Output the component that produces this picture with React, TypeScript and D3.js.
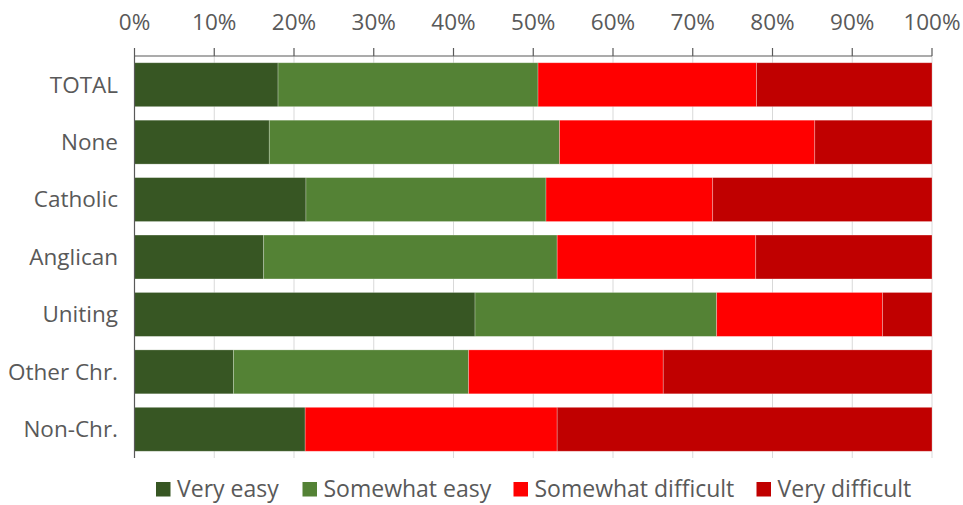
import React from "react";
import * as d3 from "d3";

// Religious affiliation groups, top to bottom
const categories = ["TOTAL", "None", "Catholic", "Anglican", "Uniting", "Other Chr.", "Non-Chr."];

// Share of respondents (%) per response, one array per series
const veryEasy = [18.0, 16.9, 21.5, 16.2, 42.7, 12.4, 21.4];
const somewhatEasy = [32.6, 36.4, 30.1, 36.8, 30.3, 29.5, 0];
const somewhatDifficult = [27.4, 32.0, 20.9, 24.9, 20.8, 24.4, 31.6];
const veryDifficult = [22.0, 14.7, 27.5, 22.1, 6.2, 33.7, 47.0];

const seriesNames = ["Very easy", "Somewhat easy", "Somewhat difficult", "Very difficult"];
const seriesColors = ["#375623", "#548235", "#FF0000", "#C00000"];
const tickValues = [0, 10, 20, 30, 40, 50, 60, 70, 80, 90, 100];

const W = 963;
const H = 505;
const FONT = "'Open Sans', sans-serif";
const TEXT = "#595959";

export default function App() {
  const seriesData = [veryEasy, somewhatEasy, somewhatDifficult, veryDifficult];
  const rows = categories.map((c, i) => {
    const r: Record<string, number | string> = { category: c };
    seriesNames.forEach((s, k) => (r[s] = seriesData[k][i]));
    return r;
  });
  const stacked = d3.stack<any>().keys(seriesNames)(rows as any);

  const x = d3.scaleLinear().domain([0, 100]).range([134.5, 932]);
  const y = d3
    .scaleBand<string>()
    .domain(categories)
    .range([56, 458])
    .paddingInner(0.235)
    .paddingOuter(0.1175);

  const legendX = [156, 302.5, 513.5, 756.5];

  return (
    <svg width={W} height={H} style={{ position: "absolute", left: 0, top: 0 }} fontFamily={FONT}>
      <rect width={W} height={H} fill="#fff" />
      {/* vertical gridlines */}
      {tickValues.map((t) => (
        <line key={"g" + t} x1={x(t)} x2={x(t)} y1={56} y2={458} stroke="#d9d9d9" strokeWidth={1} />
      ))}
      {/* stacked bars */}
      {stacked.map((layer, k) => (
        <g key={layer.key} fill={seriesColors[k]}>
          {layer.map((d, i) =>
            d[1] - d[0] > 0 ? (
              <rect
                key={i}
                x={x(d[0])}
                y={y(categories[i])}
                width={x(d[1]) - x(d[0])}
                height={y.bandwidth()}
                stroke="#ffffff"
                strokeOpacity={0.35}
                strokeWidth={0.75}
              />
            ) : null
          )}
        </g>
      ))}
      {/* top axis */}
      <line x1={x(0)} x2={x(100)} y1={56} y2={56} stroke="#595959" strokeWidth={1.2} />
      {tickValues.map((t) => (
        <g key={"t" + t}>
          <line x1={x(t)} x2={x(t)} y1={48} y2={56} stroke="#595959" strokeWidth={1.2} />
          <text x={x(t)} y={29.5} textAnchor="middle" fontSize={22.5} fill={TEXT}>
            {t}%
          </text>
        </g>
      ))}
      {/* category axis */}
      <line x1={x(0)} x2={x(0)} y1={56} y2={458} stroke="#595959" strokeWidth={1.2} />
      {categories.map((c) => (
        <text
          key={c}
          x={118}
          y={(y(c) as number) + y.bandwidth() / 2 + 7.8}
          textAnchor="end"
          fontSize={22.5}
          fill={TEXT}
        >
          {c}
        </text>
      ))}
      {/* legend */}
      {seriesNames.map((s, k) => (
        <g key={s}>
          <rect x={legendX[k]} y={482} width={14.5} height={14.5} fill={seriesColors[k]} />
          <text x={legendX[k] + 21} y={497} fontSize={23} fill={TEXT}>
            {s}
          </text>
        </g>
      ))}
    </svg>
  );
}
